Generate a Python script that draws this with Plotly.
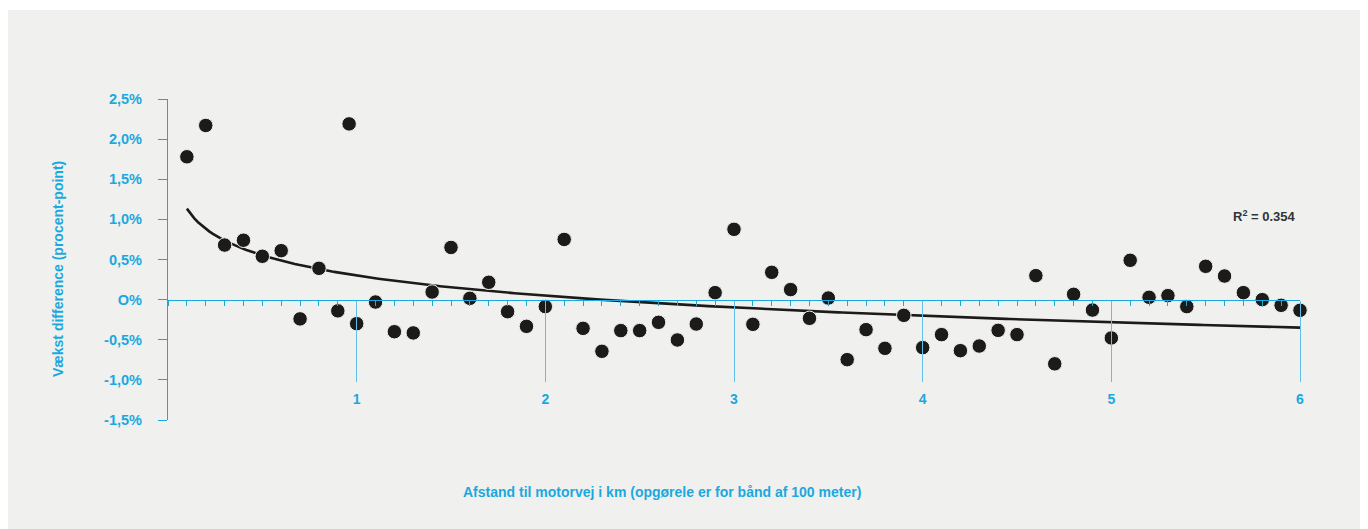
import numpy as np
import plotly.graph_objects as go

# ---- data ----
distance_km = [0.1, 0.2, 0.3, 0.4, 0.5, 0.6, 0.7, 0.8, 0.9, 0.96, 1.0,
               1.1, 1.2, 1.3, 1.4, 1.5, 1.6, 1.7, 1.8, 1.9, 2.0,
               2.1, 2.2, 2.3, 2.4, 2.5, 2.6, 2.7, 2.8, 2.9, 3.0,
               3.1, 3.2, 3.3, 3.4, 3.5, 3.6, 3.7, 3.8, 3.9, 4.0,
               4.1, 4.2, 4.3, 4.4, 4.5, 4.6, 4.7, 4.8, 4.9, 5.0,
               5.1, 5.2, 5.3, 5.4, 5.5, 5.6, 5.7, 5.8, 5.9, 6.0]
growth_diff = [1.78, 2.17, 0.68, 0.74, 0.54, 0.61, -0.24, 0.39, -0.14, 2.19, -0.30,
               -0.03, -0.40, -0.415, 0.095, 0.65, 0.016, 0.216, -0.15, -0.333, -0.087,
               0.75, -0.358, -0.644, -0.386, -0.386, -0.283, -0.503, -0.304, 0.087, 0.876,
               -0.308, 0.34, 0.125, -0.233, 0.02, -0.748, -0.374, -0.607, -0.196, -0.598,
               -0.436, -0.636, -0.578, -0.383, -0.436, 0.299, -0.80, 0.066, -0.13, -0.478,
               0.49, 0.029, 0.05, -0.087, 0.415, 0.294, 0.087, 0.0, -0.071, -0.133]

# logarithmic trend line as drawn in the reference (y = a*ln(x) + b)
trend_slope = -0.362
trend_intercept = 0.300
trend_range = [0.1, 6.0]

y_tickvals = [-1.5, -1.0, -0.5, 0, 0.5, 1.0, 1.5, 2.0, 2.5]
y_ticktext = ["-1,5%", "-1,0%", "-0,5%", "O%", "0,5%", "1,0%", "1,5%", "2,0%", "2,5%"]
x_tickvals = [1, 2, 3, 4, 5, 6]
x_ticktext = ["1", "2", "3", "4", "5", "6"]
r2_label = "R<sup>2</sup> = 0.354"

y_title = "Vækst difference (procent-point)"
x_title = "Afstand til motorvej i km (opgørele er for bånd af 100 meter)"

trend_x = np.linspace(trend_range[0], trend_range[1], 300)
trend_y = trend_slope * np.log(trend_x) + trend_intercept

CYAN = "#1ba8e0"
DARK = "#1d1b1a"
BG = "#f0f1ee"
FONT = "Liberation Sans"

# page has an 8px body margin, so the figure is placed at (8, 8)
OFF = 8
W, H = 1368 - OFF, 529 - OFF
L, R, T, B = 168 - OFF, 68, 99 - OFF, 109
pw, ph = W - L - R, H - T - B


def px_x(x):
    return (x - OFF - L) / pw


def px_y(y):
    return (H - B - (y - OFF)) / ph


fig = go.Figure()
fig.add_trace(go.Scatter(x=trend_x, y=trend_y, mode="lines",
                         line=dict(color=DARK, width=2.6),
                         hoverinfo="skip", showlegend=False, cliponaxis=False))
fig.add_trace(go.Scatter(x=distance_km, y=growth_diff, mode="markers",
                         marker=dict(color=DARK, size=14.5, line=dict(color=BG, width=1)),
                         showlegend=False, cliponaxis=False))

# background panel
fig.add_shape(type="rect", xref="paper", yref="paper",
              x0=px_x(7), x1=px_x(1380),
              y0=px_y(540), y1=px_y(10),
              fillcolor=BG, line=dict(width=0), layer="below")

fig.update_layout(
    width=W, height=H,
    margin=dict(l=L, r=R, t=T, b=B),
    paper_bgcolor="white", plot_bgcolor="rgba(0,0,0,0)",
    font=dict(family=FONT, color=CYAN, size=14),
    xaxis=dict(range=[0, 6], anchor="free", position=1.5 / 4.0,
               showgrid=False, zeroline=False,
               showline=True, linecolor=CYAN, linewidth=1.3,
               tickvals=x_tickvals, ticktext=x_ticktext,
               ticks="outside", ticklen=81, tickwidth=1.2, tickcolor="#5fc1ea",
               ticklabelstandoff=5,
               tickfont=dict(family=FONT, size=14, color=CYAN, weight="bold"),
               minor=dict(dtick=0.1, tick0=0, ticks="outside", ticklen=5,
                          tickwidth=1, tickcolor=CYAN, showgrid=False)),
    yaxis=dict(range=[-1.5, 2.5], showgrid=False, zeroline=False,
               showline=True, linecolor=CYAN, linewidth=1.3,
               tickvals=y_tickvals, ticktext=y_ticktext,
               ticks="outside", ticklen=9, tickwidth=1.3, tickcolor=CYAN,
               ticklabelstandoff=13,
               tickfont=dict(family=FONT, size=14.5, color=CYAN, weight="bold")),
    annotations=[
        dict(text=y_title, textangle=-90, xref="paper", yref="paper",
             x=px_x(58), y=px_y(269), xanchor="center", yanchor="middle",
             showarrow=False, font=dict(family=FONT, size=14, color=CYAN, weight="bold")),
        dict(text=x_title, xref="paper", yref="paper",
             x=px_x(662), y=px_y(492), xanchor="center", yanchor="middle",
             showarrow=False, font=dict(family=FONT, size=14, color=CYAN, weight="bold")),
        dict(text=r2_label, xref="x", yref="y", x=5.99, y=1.04,
             xanchor="right", yanchor="middle", showarrow=False,
             font=dict(family=FONT, size=13, color="#333333", weight="bold")),
    ],
)

fig.write_html("out.html")
